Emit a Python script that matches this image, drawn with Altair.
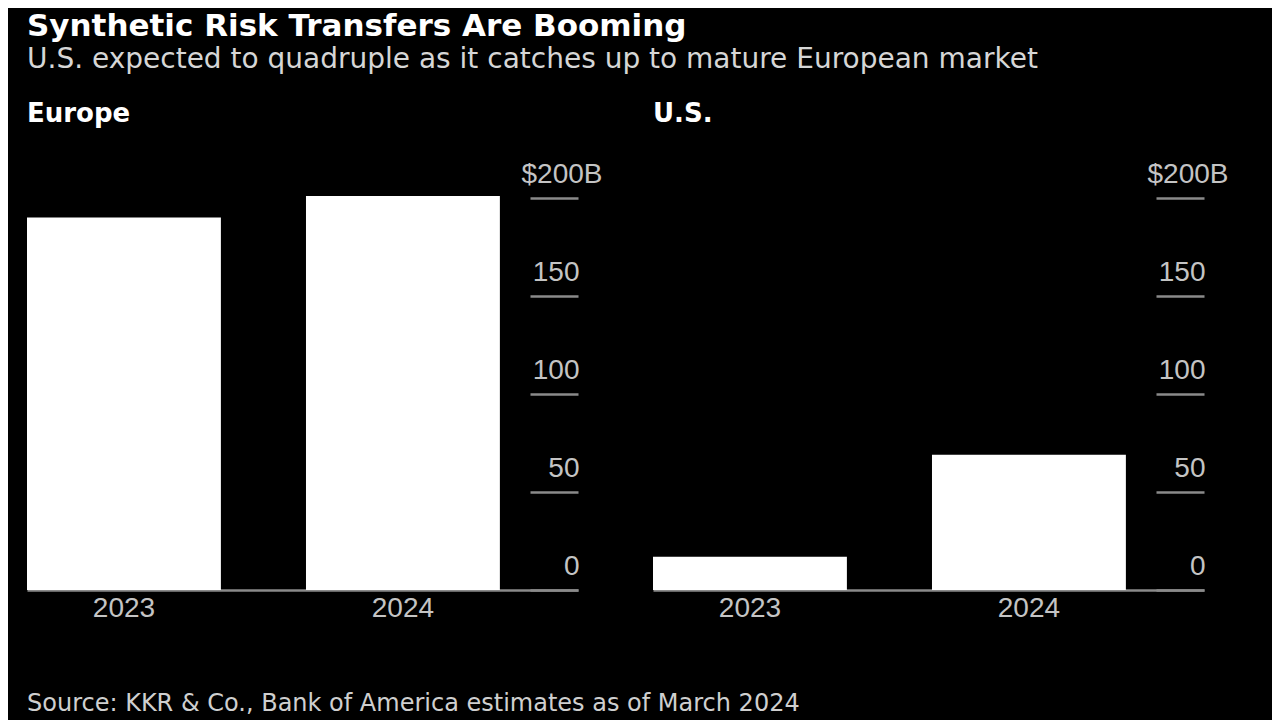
import altair as alt
import pandas as pd

years = ["2023", "2024"]
europe_values = [190, 201]
us_values = [17, 69]
y_tick_values = [0, 50, 100, 150, 200]
panel_names = ["Europe", "U.S."]
title_text = "Synthetic Risk Transfers Are Booming"
subtitle_text = "U.S. expected to quadruple as it catches up to mature European market"
source_text = "Source: KKR & Co., Bank of America estimates as of March 2024"

NUM_FONT = "Liberation Sans"
TXT_FONT = "DejaVu Sans"
GREY_LINE = "#8a8a8a"
GREY_TEXT = "#c4c4c4"


def panel(values, name):
    df = pd.DataFrame({"year": years, "value": values})
    return alt.Chart(df).mark_bar(color="#ffffff").encode(
        x=alt.X(
            "year:N",
            sort=years,
            scale=alt.Scale(paddingInner=0.305, paddingOuter=0.14, align=0),
            axis=alt.Axis(
                title=None, labelAngle=0, ticks=False, tickSize=0, domain=True,
                domainColor=GREY_LINE, domainWidth=2.5, labelFont=NUM_FONT,
                labelFontSize=28, labelColor=GREY_TEXT, labelPadding=26,
                labelBaseline="alphabetic",
            ),
        ),
        y=alt.Y(
            "value:Q",
            scale=alt.Scale(domain=[0, 200], nice=False),
            axis=alt.Axis(
                title=None, orient="right", values=y_tick_values,
                labelExpr="datum.value == 200 ? '$200B' : datum.label",
                offset=-48, tickSize=48, tickWidth=2.5, tickColor=GREY_LINE,
                domain=False, grid=False, labelAlign="right",
                labelPadding={"condition": {"test": "datum.value == 200", "value": 24}, "value": 1},
                labelBaseline="alphabetic", labelOffset=-16,
                labelFont=NUM_FONT, labelFontSize=28, labelColor=GREY_TEXT,
            ),
        ),
    ).properties(
        width=551,
        height=392,
        title=alt.TitleParams(
            name, anchor="start", font=TXT_FONT, fontSize=26, fontWeight="bold",
            color="#ffffff", offset=33,
        ),
    )


inner = alt.hconcat(
    panel(europe_values, panel_names[0]),
    panel(us_values, panel_names[1]),
    spacing=51,
).properties(
    title=alt.TitleParams(
        source_text, orient="bottom", anchor="start", font=TXT_FONT, fontSize=24,
        fontWeight="normal", color="#cfcfcf", offset=70,
    )
)

chart = alt.vconcat(inner).properties(
    title=alt.TitleParams(
        title_text, subtitle=subtitle_text, anchor="start", font=TXT_FONT,
        fontSize=31, fontWeight="bold", color="#ffffff",
        subtitleFont=TXT_FONT, subtitleFontSize=28, subtitleColor="#d6d6d6",
        subtitlePadding=3, offset=26,
    )
).configure(
    background="#000000",
    padding={"left": 19, "top": 3, "right": 44, "bottom": 12},
).configure_view(stroke=None)

chart.save("out.html", embed_options={"renderer": "svg", "actions": False})
